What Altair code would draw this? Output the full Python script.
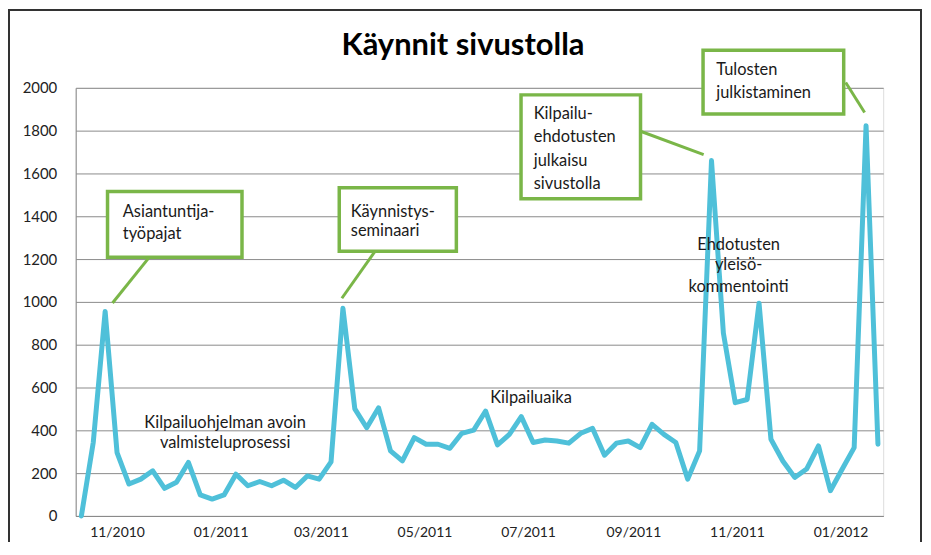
import altair as alt
import pandas as pd

# ---------------- data ----------------
start_week = "2010-10-11"
visits = [0, 344, 955, 296, 149, 172, 211, 129, 157, 250, 98, 79, 98, 195, 141, 161,
          141, 167, 133, 187, 172, 253, 970, 500, 412, 505, 304, 257, 366, 335, 335,
          316, 386, 401, 490, 332, 381, 464, 343, 355, 350, 340, 386, 409, 284, 340,
          350, 319, 428, 381, 343, 172, 304, 1660, 854, 529, 544, 994, 358, 257, 180,
          219, 327, 118, 219, 319, 1823, 335]
weeks = pd.date_range(start_week, periods=len(visits), freq="7D").strftime("%Y-%m-%d").tolist()

tick_months = ["2010-11-01", "2011-01-01", "2011-03-01", "2011-05-01",
               "2011-07-01", "2011-09-01", "2011-11-01", "2012-01-01"]

title_text = "Käynnit sivustolla"

# annotation boxes (week offsets / visit values)
box_w1 = [2.20, 21.69, 36.98, 52.29]
box_w2 = [13.51, 31.54, 47.03, 64.12]
box_v1 = [1516, 1533, 1967, 2175]
box_v2 = [1209, 1237, 1482, 1878]

call_w1 = [5.72, 24.71, 47.03, 64.29]
call_v1 = [1209, 1237, 1797, 2025]
call_w2 = [2.62, 21.91, 52.34, 65.88]
call_v2 = [995, 1017, 1688, 1885]

box_text = ["Asiantuntija-", "työpajat",
            "Käynnistys-", "seminaari",
            "Kilpailu-", "ehdotusten", "julkaisu", "sivustolla",
            "Tulosten", "julkistaminen"]
box_text_w = [3.48, 3.48, 22.66, 22.66, 38.05, 38.05, 38.05, 38.05, 53.40, 53.40]
box_text_v = [1420, 1319, 1420, 1330, 1878, 1769, 1660, 1552, 2082, 1978]

note_text = ["Kilpailuohjelman avoin", "valmisteluprosessi", "Kilpailuaika",
             "Ehdotusten", "yleisö-", "kommentointi"]
note_w = [12.09, 12.09, 37.82, 55.28, 55.28, 55.28]
note_v = [433, 340, 552, 1265, 1172, 1071]


def wk(w):
    return (pd.Timestamp(start_week) + pd.Timedelta(days=w * 7)).strftime("%Y-%m-%dT%H:%M:%SZ")


def ms(s):
    return int(pd.Timestamp(s.replace("Z", "")).value // 10**6)


line_df = pd.DataFrame({"date": weeks, "visits": visits})
box_df = pd.DataFrame({"d1": [wk(w) for w in box_w1], "d2": [wk(w) for w in box_w2],
                       "v1": box_v1, "v2": box_v2})
call_df = pd.DataFrame({"d1": [wk(w) for w in call_w1], "d2": [wk(w) for w in call_w2],
                        "v1": call_v1, "v2": call_v2})
btext_df = pd.DataFrame({"d": [wk(w) for w in box_text_w], "v": box_text_v, "t": box_text})
note_df = pd.DataFrame({"d": [wk(w) for w in note_w], "v": note_v, "t": note_text})
title_df = pd.DataFrame({"t": [title_text]})

FONT = "Lato"
GREEN = "#7ab648"
BLUE = "#4fc0d9"

xscale = alt.Scale(type="utc", domain=[ms(wk(-0.477)), ms(wk(67.44))])
yscale = alt.Scale(domain=[0, 2000], nice=False)

x_enc = alt.X("date:T", scale=xscale,
              axis=alt.Axis(title=None, format="%m/%Y", values=[ms(m) for m in tick_months],
                            grid=False, ticks=False, labelPadding=10, labelFontSize=14,
                            labelColor="#222", labelFont=FONT, domainColor="#8a8a8a"))
y_enc = alt.Y("visits:Q", scale=yscale,
              axis=alt.Axis(title=None, values=list(range(0, 2001, 200)), grid=True,
                            format="d",
                            gridColor="#8a8a8a", gridWidth=1, ticks=False, labelPadding=19,
                            labelFontSize=15, labelColor="#222", labelFont=FONT,
                            domainColor="#8a8a8a"))

line = alt.Chart(line_df).mark_line(color=BLUE, strokeWidth=5, strokeJoin="round",
                                    strokeCap="round").encode(x=x_enc, y=y_enc)

calls = alt.Chart(call_df).mark_rule(color=GREEN, strokeWidth=3).encode(
    x=alt.X("d1:T", scale=xscale), x2="d2:T",
    y=alt.Y("v1:Q", scale=yscale), y2="v2:Q")

boxes = alt.Chart(box_df).mark_rect(fill="white", stroke=GREEN, strokeWidth=3.5).encode(
    x=alt.X("d1:T", scale=xscale), x2="d2:T",
    y=alt.Y("v1:Q", scale=yscale), y2="v2:Q")

btext = alt.Chart(btext_df).mark_text(align="left", baseline="middle", font=FONT,
                                      fontSize=16.5, color="#1a1a1a").encode(
    x=alt.X("d:T", scale=xscale), y=alt.Y("v:Q", scale=yscale), text="t:N")

notes = alt.Chart(note_df).mark_text(align="center", baseline="middle", font=FONT,
                                     fontSize=16.5, color="#1a1a1a").encode(
    x=alt.X("d:T", scale=xscale), y=alt.Y("v:Q", scale=yscale), text="t:N")

title = alt.Chart(title_df).mark_text(align="center", baseline="middle", font=FONT,
                                      fontSize=31, fontWeight="bold", color="#000").encode(
    x=alt.value(389), y=alt.value(-42), text="t:N")

frame = alt.Chart(line_df).mark_rect(fill=None, stroke="#333", strokeWidth=1.5).encode(
    x=alt.value(-67), x2=alt.value(849), y=alt.value(-78), y2=alt.value(480))

chart = alt.layer(line, calls, boxes, btext, notes, title, frame).properties(
    width=811, height=430,
    padding={"left": 68, "top": 79, "right": 40, "bottom": 25},
    autosize=alt.AutoSizeParams(type="none"),
).configure_view(stroke=None).configure(background="white")

chart.save("out.html", embed_options={"renderer": "svg", "actions": False})
